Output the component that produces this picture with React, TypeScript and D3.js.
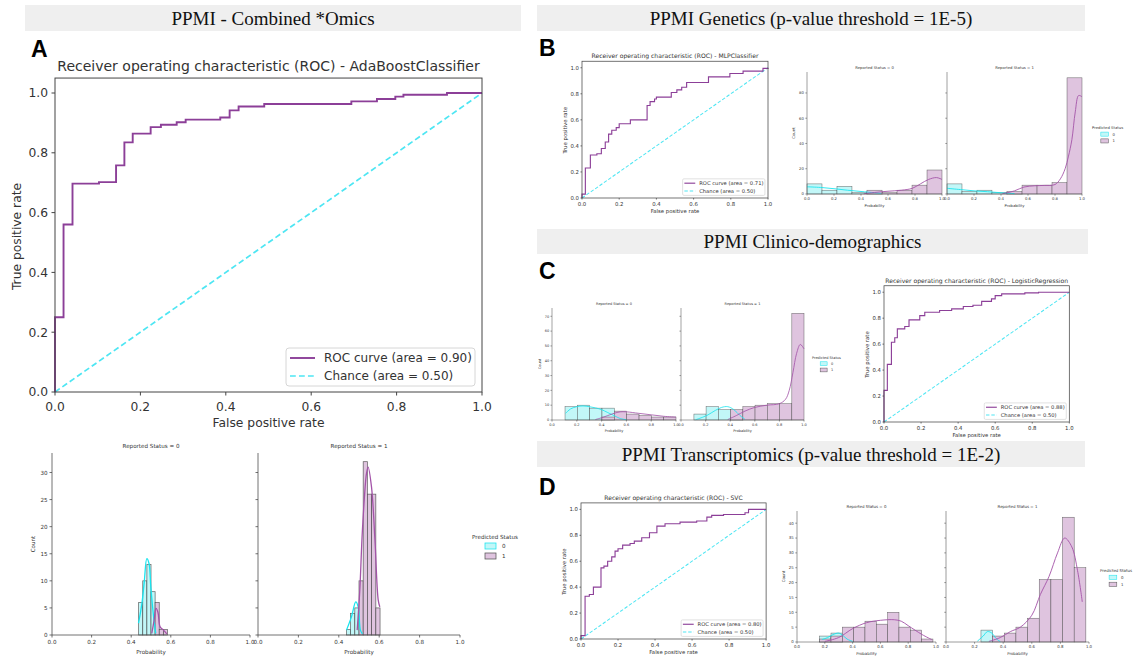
import React from 'react';
import * as d3 from 'd3';

// ---------------- DATA ----------------
const headerTitles = [
  'PPMI - Combined *Omics',
  'PPMI Genetics (p-value threshold = 1E-5)',
  'PPMI Clinico-demographics',
  'PPMI Transcriptomics (p-value threshold = 1E-2)',
];
const panelLetters = ['A', 'B', 'C', 'D'];

const rocTicks = [0, 0.2, 0.4, 0.6, 0.8, 1.0];
const chanceX = [0, 1];
const chanceY = [0, 1];

const rocTitleA = 'Receiver operating characteristic (ROC) - AdaBoostClassifier';
const rocAucA = '0.90';
const rocFprA = [0, 0, 0.02, 0.041, 0.103, 0.143, 0.1625, 0.182, 0.224, 0.248, 0.285, 0.306, 0.387, 0.409, 0.43, 0.49, 0.694, 0.754, 0.797, 0.816, 0.918, 1.0];
const rocTprA = [0, 0.25, 0.56, 0.697, 0.702, 0.758, 0.835, 0.864, 0.886, 0.894, 0.902, 0.911, 0.918, 0.942, 0.955, 0.963, 0.972, 0.98, 0.988, 0.994, 1.0, 1.0];

const rocTitleB = 'Receiver operating characteristic (ROC) - MLPClassifier';
const rocAucB = '0.71';
const rocFprB = [0, 0, 0.018, 0.045, 0.08, 0.104, 0.125, 0.143, 0.16, 0.184, 0.2, 0.26, 0.35, 0.366, 0.39, 0.40, 0.48, 0.51, 0.536, 0.5625, 0.68, 0.795, 0.866, 0.973, 1.0];
const rocTprB = [0, 0.03, 0.23, 0.33, 0.34, 0.38, 0.43, 0.49, 0.52, 0.54, 0.57, 0.60, 0.71, 0.74, 0.76, 0.775, 0.81, 0.83, 0.85, 0.887, 0.93, 0.956, 0.974, 0.995, 1.0];

const rocTitleC = 'Receiver operating characteristic (ROC) - LogisticRegression';
const rocAucC = '0.88';
const rocFprC = [0, 0, 0.018, 0.04, 0.058, 0.072, 0.112, 0.135, 0.193, 0.22, 0.30, 0.365, 0.428, 0.48, 0.527, 0.58, 0.6, 0.635, 0.76, 0.834, 1.0];
const rocTprC = [0, 0.244, 0.444, 0.615, 0.649, 0.718, 0.736, 0.787, 0.82, 0.846, 0.859, 0.872, 0.89, 0.9, 0.93, 0.949, 0.974, 0.987, 0.995, 1.0, 1.0];

const rocTitleD = 'Receiver operating characteristic (ROC) - SVC';
const rocAucD = '0.80';
const rocFprD = [0, 0, 0.022, 0.045, 0.067, 0.108, 0.124, 0.144, 0.166, 0.184, 0.2, 0.225, 0.265, 0.288, 0.328, 0.37, 0.41, 0.454, 0.535, 0.625, 0.68, 0.706, 0.77, 0.886, 0.905, 1.0];
const rocTprD = [0, 0.026, 0.33, 0.343, 0.4, 0.549, 0.562, 0.6, 0.634, 0.678, 0.696, 0.724, 0.737, 0.755, 0.781, 0.82, 0.871, 0.889, 0.902, 0.91, 0.94, 0.954, 0.961, 0.974, 1.0, 1.0];

const facetTitles = ['Reported Status = 0', 'Reported Status = 1'];
const probTicks = [0, 0.2, 0.4, 0.6, 0.8, 1.0];
const predictedLevels = ['0', '1'];

// A histograms
const histEdgesA = [0.4375, 0.4583, 0.4792, 0.5, 0.5208, 0.5417, 0.5625, 0.5833, 0.6042];
const histA0Cyan = [6, 10, 13, 8, 0, 0, 0, 0];
const histA0Purple = [0, 0, 0, 0, 6, 1, 1, 0];
const histA1Cyan = [1, 4, 5, 0, 0, 0, 0, 0];
const histA1Purple = [0, 0, 0, 10, 32, 26, 26, 5];
const kdeA0CyanX = [0.437, 0.454, 0.466, 0.479, 0.49, 0.499, 0.513, 0.524];
const kdeA0CyanY = [2.2, 5.8, 9.8, 14.1, 13.2, 8.9, 3.4, 0.3];
const kdeA0PurpleX = [0.504, 0.516, 0.525, 0.535, 0.546, 0.563, 0.58];
const kdeA0PurpleY = [0.3, 2.8, 4.9, 4.2, 1.5, 0.9, 0.2];
const kdeA1CyanX = [0.438, 0.463, 0.484, 0.496, 0.507, 0.517];
const kdeA1CyanY = [0.9, 3.4, 6.1, 5.2, 0.9, 0.2];
const kdeA1PurpleX = [0.491, 0.504, 0.517, 0.537, 0.545, 0.562, 0.579, 0.595, 0.603];
const kdeA1PurpleY = [0.9, 8.3, 19.4, 29.8, 31, 27.3, 17.5, 6.5, 5.2];
const yTicksA = [0, 5, 10, 15, 20, 25, 30];
const yMaxA = 33.6;

// B histograms
const histEdgesB = [0, 0.111, 0.222, 0.333, 0.444, 0.556, 0.667, 0.778, 0.889, 1.0];
const histB0Cyan = [8, 3, 6, 1, 2, 0, 0, 0, 0];
const histB0Purple = [0, 0, 0, 0, 3, 1, 3, 7, 19];
const histB1Cyan = [8, 2, 3, 1, 1, 0, 0, 0, 0];
const histB1Purple = [0, 0, 0, 0, 2, 7, 7, 9, 92];
const kdeB0CyanX = [0, 0.1, 0.2, 0.3, 0.4, 0.5, 0.55];
const kdeB0CyanY = [5.7, 5.2, 4.2, 3, 2, 1, 0.5];
const kdeB0PurpleX = [0.42, 0.5, 0.6, 0.7, 0.78, 0.84, 0.9, 0.96, 1.0];
const kdeB0PurpleY = [0.2, 1.2, 2.2, 3, 4.5, 8, 11.5, 13, 11.5];
const kdeB1CyanX = [0, 0.1, 0.2, 0.3, 0.4, 0.5];
const kdeB1CyanY = [4.5, 3.5, 2.5, 1.8, 1, 0.3];
const kdeB1PurpleX = [0.41, 0.5, 0.57, 0.65, 0.72, 0.8, 0.84, 0.875, 0.9, 0.925, 0.95, 0.975, 1.0];
const kdeB1PurpleY = [0.2, 2.5, 5.5, 6.5, 6.8, 7.5, 12, 20, 30, 43, 65, 78, 77];
const yTicksB = [0, 20, 40, 60, 80];
const yMaxB = 96.6;

// C histograms
const histEdgesC = [0.105, 0.204, 0.304, 0.403, 0.503, 0.602, 0.702, 0.801, 0.901, 1.0];
const histC0Cyan = [9, 10, 8, 8, 0, 0, 0, 0, 0];
const histC0Purple = [0, 0, 0, 2, 6, 4, 3, 2, 2];
const histC1Cyan = [4, 9, 7, 2, 0, 0, 0, 0, 0];
const histC1Purple = [0, 0, 0, 7, 9, 10, 11, 11, 72];
const kdeC0CyanX = [0.11, 0.15, 0.2, 0.25, 0.3, 0.35, 0.4, 0.45, 0.5, 0.55, 0.6];
const kdeC0CyanY = [4.5, 7.5, 9, 9.5, 9, 8.2, 7, 5, 3, 1, 0.2];
const kdeC0PurpleX = [0.35, 0.4, 0.45, 0.5, 0.55, 0.6, 0.7, 0.8, 0.9, 1.0];
const kdeC0PurpleY = [0.3, 1.5, 3, 4.5, 5.5, 5.5, 4.5, 3.5, 2.5, 2];
const kdeC1CyanX = [0.12, 0.18, 0.22, 0.28, 0.33, 0.38, 0.43, 0.48, 0.52];
const kdeC1CyanY = [0.2, 2, 3.5, 6.5, 8.5, 9, 7, 3, 0.5];
const kdeC1PurpleX = [0.38, 0.45, 0.52, 0.6, 0.7, 0.8, 0.85, 0.88, 0.91, 0.94, 0.97, 1.0];
const kdeC1PurpleY = [0.3, 3, 6, 8.5, 10, 11, 14, 20, 32, 45, 51, 48];
const yTicksC = [0, 10, 20, 30, 40, 50, 60, 70];
const yMaxC = 75.6;

// D histograms
const histEdgesD = [0.163, 0.2445, 0.326, 0.4075, 0.489, 0.5705, 0.652, 0.7335, 0.815, 0.8965, 0.978];
const histD0Cyan = [2, 3, 0, 0, 0, 0, 0, 0, 0, 0];
const histD0Purple = [1, 2, 5, 5, 7, 6, 10, 5, 4, 1];
const histD1Cyan = [0, 4, 0, 0, 0, 0, 0, 0, 0, 0];
const histD1Purple = [0, 0, 2, 3, 5, 8, 21, 21, 42, 25];
const kdeD0CyanX = [0.18, 0.22, 0.26, 0.3, 0.33, 0.36, 0.4];
const kdeD0CyanY = [0.8, 1.5, 2.5, 3, 2.2, 1, 0.2];
const kdeD0PurpleX = [0.2, 0.3, 0.4, 0.5, 0.6, 0.7, 0.75, 0.8, 0.9, 0.97];
const kdeD0PurpleY = [0.2, 1.5, 4.5, 6.5, 7.3, 7.5, 7, 5.5, 2.5, 0.8];
const kdeD1CyanX = [0.22, 0.26, 0.29, 0.32, 0.35, 0.38];
const kdeD1CyanY = [0.3, 2, 3.5, 3, 1.2, 0.1];
const kdeD1PurpleX = [0.3, 0.38, 0.45, 0.52, 0.6, 0.66, 0.72, 0.78, 0.83, 0.88, 0.92, 0.953];
const kdeD1PurpleY = [0.2, 1.5, 3.5, 5, 9, 16, 22, 30, 35, 32, 24, 13.5];
const yTicksD = [0, 5, 10, 15, 20, 25, 30, 35, 40];
const yMaxD = 44.1;

// ---------------- STYLE ----------------
const SANS = 'DejaVu Sans, Verdana, sans-serif';
const SERIF = 'Liberation Serif, Times New Roman, serif';
const ROC_PURPLE = '#8c3f98';
const ROC_CYAN = '#4ee6f3';
const KDE_CYAN = '#19e4ee';
const KDE_PURPLE = '#a353a8';
const FILL_CYAN = '#c2f7f8';
const FILL_PURPLE = '#dfc4df';
const TXT = '#333';

type RocProps = {
  x0: number; y0: number; s: number; title: string; fpr: number[]; tpr: number[]; auc: string;
  lw: number; fw: number;
};

function Roc({ x0, y0, s, title, fpr, tpr, auc, lw, fw }: RocProps) {
  const W = 427, H = 299;
  const x = d3.scaleLinear().domain([0, 1]).range([0, W]);
  const y = d3.scaleLinear().domain([0, 1]).range([0, -H]);
  const top = y(1.05);
  const line = d3.line<number>().x((_, i) => x(fpr[i])).y((d) => y(d)).curve(d3.curveStepAfter);
  const chance = d3.line<number>().x((_, i) => x(chanceX[i])).y((d) => y(d));
  const fmt = d3.format('.1f');
  const dash = `${5.5 * lw / 1.8},${3 * lw / 1.8}`;
  return (
    <g transform={`translate(${x0},${y0}) scale(${s})`} fontFamily={SANS} fill={TXT}>
      <text x={W / 2} y={top - 7.5} textAnchor="middle" fontSize={14}>{title}</text>
      <path d={chance(chanceY) || ''} fill="none" stroke={ROC_CYAN} strokeWidth={lw * 0.9} strokeDasharray={dash} />
      <path d={line(tpr) || ''} fill="none" stroke={ROC_PURPLE} strokeWidth={lw} />
      <rect x={0} y={top} width={W} height={-top} fill="none" stroke="#444" strokeWidth={fw} />
      {rocTicks.map((t) => (
        <g key={'x' + t}>
          <line x1={x(t)} x2={x(t)} y1={0} y2={3.5} stroke="#444" strokeWidth={fw} />
          <text x={x(t)} y={18.5} textAnchor="middle" fontSize={12.3}>{fmt(t)}</text>
        </g>
      ))}
      {rocTicks.map((t) => (
        <g key={'y' + t}>
          <line x1={-3.5} x2={0} y1={y(t)} y2={y(t)} stroke="#444" strokeWidth={fw} />
          <text x={-7} y={y(t) + 4.4} textAnchor="end" fontSize={12.3}>{fmt(t)}</text>
        </g>
      ))}
      <text x={W / 2} y={34.5} textAnchor="middle" fontSize={12.3}>False positive rate</text>
      <text transform={`translate(${-34},${y(0.52)}) rotate(-90)`} textAnchor="middle" fontSize={12.3}>True positive rate</text>
      <g>
        <rect x={W - 196} y={-44} width={189} height={38} rx={3} fill="#fff" fillOpacity={0.8} stroke="#d6d6d6" strokeWidth={fw} />
        <line x1={W - 192} x2={W - 167} y1={-34} y2={-34} stroke={ROC_PURPLE} strokeWidth={lw} />
        <text x={W - 158} y={-29.8} fontSize={12}>{`ROC curve (area = ${auc})`}</text>
        <line x1={W - 192} x2={W - 167} y1={-16} y2={-16} stroke={ROC_CYAN} strokeWidth={lw * 0.9} strokeDasharray={dash} />
        <text x={W - 158} y={-11.8} fontSize={12}>{'Chance (area = 0.50)'}</text>
      </g>
    </g>
  );
}

type Facet = {
  title: string; cyan: number[]; purple: number[];
  kcx: number[]; kcy: number[]; kpx: number[]; kpy: number[];
};

type HistProps = {
  xr: [number, number][]; yBase: number; yTop: number; k: number; edges: number[];
  facets: Facet[]; ymax: number; yticks: number[]; legend: [number, number];
};

function Hist({ xr, yBase, yTop, k, edges, facets, ymax, yticks, legend }: HistProps) {
  const ys = d3.scaleLinear().domain([0, ymax]).range([yBase, yTop]);
  const fs = 5.6 * k;
  const sw = Math.max(0.5, 0.75 * k);
  const fmt = d3.format('.1f');
  return (
    <g fontFamily={SANS} fill={TXT}>
      {facets.map((f, fi) => {
        const xs = d3.scaleLinear().domain([0, 1]).range(xr[fi]);
        const kde = (xa: number[]) => d3.line<number>().x((_, i) => xs(xa[i])).y((d) => ys(d)).curve(d3.curveCatmullRom);
        const bars = (counts: number[], fill: string) => counts.map((c, j) => c > 0 ? (
          <rect key={fill + j} x={xs(edges[j])} y={ys(c)} width={xs(edges[j + 1]) - xs(edges[j])} height={yBase - ys(c)}
            fill={fill} stroke="#3a3a3a" strokeOpacity={0.75} strokeWidth={sw} />
        ) : null);
        return (
          <g key={fi}>
            {bars(f.cyan, FILL_CYAN)}
            {bars(f.purple, FILL_PURPLE)}
            <path d={kde(f.kcx)(f.kcy) || ''} fill="none" stroke={KDE_CYAN} strokeWidth={1.3 * k} />
            <path d={kde(f.kpx)(f.kpy) || ''} fill="none" stroke={KDE_PURPLE} strokeWidth={1.3 * k} />
            <line x1={xs(0)} x2={xs(1)} y1={yBase} y2={yBase} stroke="#444" strokeWidth={sw} />
            <line x1={xs(0)} x2={xs(0)} y1={yBase} y2={yTop} stroke="#444" strokeWidth={sw} />
            {probTicks.map((t) => (
              <g key={t}>
                <line x1={xs(t)} x2={xs(t)} y1={yBase} y2={yBase + 2.5 * k} stroke="#444" strokeWidth={sw} />
                <text x={xs(t)} y={yBase + 9 * k} textAnchor="middle" fontSize={fs}>{fmt(t)}</text>
              </g>
            ))}
            {yticks.map((t) => (
              <g key={'y' + t}>
                <line x1={xs(0) - 2.5 * k} x2={xs(0)} y1={ys(t)} y2={ys(t)} stroke="#444" strokeWidth={sw} />
                {fi === 0 ? <text x={xs(0) - 4.5 * k} y={ys(t) + 2 * k} textAnchor="end" fontSize={fs}>{t}</text> : null}
              </g>
            ))}
            <text x={(xr[fi][0] + xr[fi][1]) / 2} y={yTop - 5 * k} textAnchor="middle" fontSize={fs}>{f.title}</text>
            <text x={(xr[fi][0] + xr[fi][1]) / 2} y={yBase + 19 * k} textAnchor="middle" fontSize={fs}>Probability</text>
            {fi === 0 ? (
              <text transform={`translate(${xs(0) - 17 * k},${(yBase + yTop) / 2}) rotate(-90)`} textAnchor="middle" fontSize={fs}>Count</text>
            ) : null}
          </g>
        );
      })}
      <g>
        <text x={legend[0]} y={legend[1] + 2 * k} fontSize={fs}>Predicted Status</text>
        {predictedLevels.map((lv, i) => (
          <g key={lv}>
            <rect x={legend[0] + 13 * k} y={legend[1] + (6 + i * 10) * k} width={11 * k} height={6 * k}
              fill={i === 0 ? FILL_CYAN : FILL_PURPLE} stroke={i === 0 ? KDE_CYAN : '#555'} strokeWidth={sw} />
            <text x={legend[0] + 30 * k} y={legend[1] + (11.2 + i * 10) * k} fontSize={fs}>{lv}</text>
          </g>
        ))}
      </g>
    </g>
  );
}

const headerBoxes: [number, number, number, number][] = [
  [25, 5, 496, 26],
  [537, 5, 548, 26],
  [537, 229, 551, 25],
  [537, 441, 548, 26],
];
const letterPos: [number, number][] = [[31, 57], [539, 56], [539, 279], [539, 495]];

export default function App() {
  return (
    <svg width={1135} height={660} style={{ position: 'absolute', left: 0, top: 0, background: '#fff' }}>
      <rect x={0} y={0} width={1135} height={660} fill="#fff" />
      {headerBoxes.map((b, i) => (
        <g key={i}>
          <rect x={b[0]} y={b[1]} width={b[2]} height={b[3]} fill="#efefef" />
          <text x={b[0] + b[2] / 2} y={b[1] + b[3] / 2 + 6.5} textAnchor="middle" fontFamily={SERIF} fontSize={19} fill="#111">{headerTitles[i]}</text>
        </g>
      ))}
      {letterPos.map((p, i) => (
        <text key={i} x={p[0]} y={p[1]} fontFamily="Liberation Sans, Arial, sans-serif" fontWeight="bold" fontSize={23} fill="#000">{panelLetters[i]}</text>
      ))}

      <Roc x0={55} y0={392} s={1} title={rocTitleA} fpr={rocFprA} tpr={rocTprA} auc={rocAucA} lw={1.9} fw={1} />
      <Roc x0={582} y0={198} s={0.4356} title={rocTitleB} fpr={rocFprB} tpr={rocTprB} auc={rocAucB} lw={2.6} fw={1.7} />
      <Roc x0={884} y0={422} s={0.434} title={rocTitleC} fpr={rocFprC} tpr={rocTprC} auc={rocAucC} lw={2.6} fw={1.7} />
      <Roc x0={581} y0={639} s={0.4335} title={rocTitleD} fpr={rocFprD} tpr={rocTprD} auc={rocAucD} lw={2.6} fw={1.7} />

      <Hist xr={[[52, 250], [258, 460]]} yBase={635} yTop={453} k={1} edges={histEdgesA} ymax={yMaxA} yticks={yTicksA} legend={[472, 537]}
        facets={[
          { title: facetTitles[0], cyan: histA0Cyan, purple: histA0Purple, kcx: kdeA0CyanX, kcy: kdeA0CyanY, kpx: kdeA0PurpleX, kpy: kdeA0PurpleY },
          { title: facetTitles[1], cyan: histA1Cyan, purple: histA1Purple, kcx: kdeA1CyanX, kcy: kdeA1CyanY, kpx: kdeA1PurpleX, kpy: kdeA1PurpleY },
        ]} />
      <Hist xr={[[807, 942], [947, 1082]]} yBase={194} yTop={72} k={0.68} edges={histEdgesB} ymax={yMaxB} yticks={yTicksB} legend={[1092, 128]}
        facets={[
          { title: facetTitles[0], cyan: histB0Cyan, purple: histB0Purple, kcx: kdeB0CyanX, kcy: kdeB0CyanY, kpx: kdeB0PurpleX, kpy: kdeB0PurpleY },
          { title: facetTitles[1], cyan: histB1Cyan, purple: histB1Purple, kcx: kdeB1CyanX, kcy: kdeB1CyanY, kpx: kdeB1PurpleX, kpy: kdeB1PurpleY },
        ]} />
      <Hist xr={[[552, 676], [681, 804]]} yBase={420} yTop={308} k={0.63} edges={histEdgesC} ymax={yMaxC} yticks={yTicksC} legend={[812, 358]}
        facets={[
          { title: facetTitles[0], cyan: histC0Cyan, purple: histC0Purple, kcx: kdeC0CyanX, kcy: kdeC0CyanY, kpx: kdeC0PurpleX, kpy: kdeC0PurpleY },
          { title: facetTitles[1], cyan: histC1Cyan, purple: histC1Purple, kcx: kdeC1CyanX, kcy: kdeC1CyanY, kpx: kdeC1PurpleX, kpy: kdeC1PurpleY },
        ]} />
      <Hist xr={[[797, 936], [946, 1089]]} yBase={642} yTop={511} k={0.7} edges={histEdgesD} ymax={yMaxD} yticks={yTicksD} legend={[1100, 571]}
        facets={[
          { title: facetTitles[0], cyan: histD0Cyan, purple: histD0Purple, kcx: kdeD0CyanX, kcy: kdeD0CyanY, kpx: kdeD0PurpleX, kpy: kdeD0PurpleY },
          { title: facetTitles[1], cyan: histD1Cyan, purple: histD1Purple, kcx: kdeD1CyanX, kcy: kdeD1CyanY, kpx: kdeD1PurpleX, kpy: kdeD1PurpleY },
        ]} />
    </svg>
  );
}
